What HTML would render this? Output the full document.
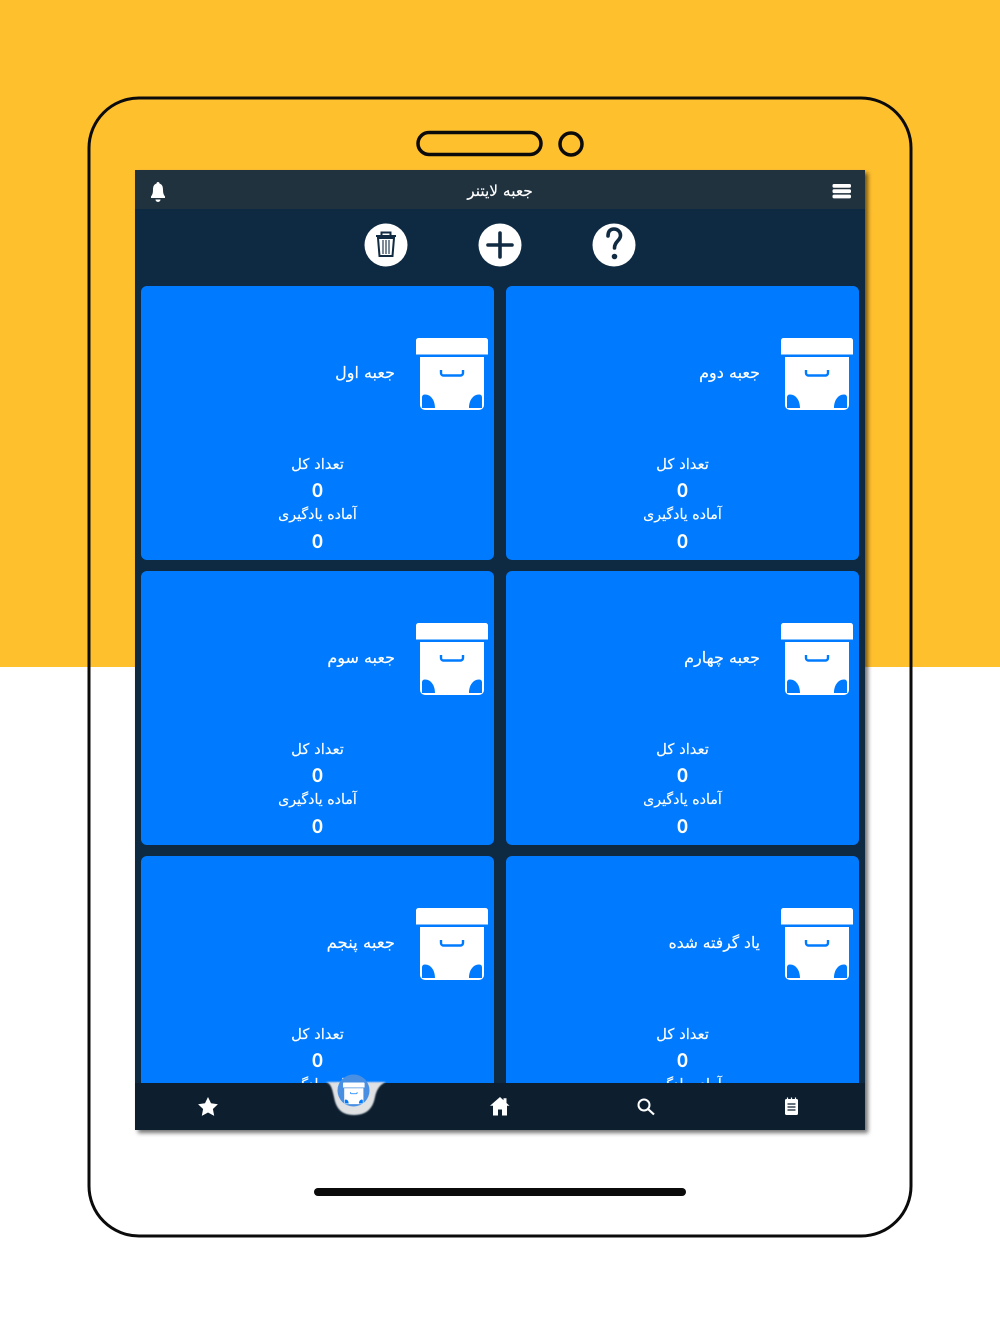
<!DOCTYPE html>
<html lang="fa"><head><meta charset="utf-8"><title>جعبه لایتنر</title>
<style>
html,body{margin:0;padding:0;background:#fff}
svg{display:block}
text{font-family:"DejaVu Sans","Liberation Sans",sans-serif;fill:#fff;text-anchor:middle;stroke:#fff;stroke-width:.15px}
text.n{stroke-width:.7px}
</style></head><body>
<svg width="1000" height="1334" viewBox="0 0 1000 1334" xmlns="http://www.w3.org/2000/svg">
<defs>
<filter id="sh" x="-5%" y="-5%" width="110%" height="110%"><feDropShadow dx="3" dy="3" stdDeviation="2" flood-color="#000" flood-opacity=".55"/></filter>
<filter id="bl" x="-10%" y="-10%" width="120%" height="120%"><feGaussianBlur stdDeviation=".7"/></filter>
<clipPath id="scr"><rect x="135" y="170" width="730" height="913"/></clipPath>
<g id="box">
<path d="M0 2.500a2.500 2.500 0 0 1 2.500-2.500h67a2.500 2.500 0 0 1 2.500 2.500v14H0z" fill="#fff"/>
<path d="M4 19h64v48a5 5 0 0 1-5 5H9a5 5 0 0 1-5-5z" fill="#fff"/>
<path d="M25 32v3a2.500 2.500 0 0 0 2.500 2.500h17a2.500 2.500 0 0 0 2.500-2.500v-3" fill="none" stroke="#007bff" stroke-width="2.400"/>
<path d="M6 70v-11a3 3 0 0 1 3-2.500c6 0 10 6 10 13.500z M66 70v-11a3 3 0 0 0-3-2.500c-6 0-10 6-10 13.500z" fill="#007bff"/>
</g>
<g id="card">
<rect x="0" y="0" width="353" height="274" rx="6" fill="#007bff"/>
<use href="#box" x="275" y="52"/>
<text x="176.500" y="183" font-size="14.800">تعداد کل</text>
<text class="n" x="176.500" y="210.500" font-size="18">0</text>
<text x="176.500" y="233" font-size="14.200">آماده یادگیری</text>
<text class="n" x="176.500" y="261.500" font-size="18">0</text>
</g>
</defs>
<rect width="1000" height="667" fill="#ffc02e"/>
<rect x="89" y="98" width="822" height="1138" rx="50" fill="none" stroke="#0b0b0b" stroke-width="3"/>
<rect x="418" y="132.500" width="123" height="22" rx="11" fill="none" stroke="#0b0b0b" stroke-width="3.500"/>
<circle cx="571" cy="144" r="11" fill="none" stroke="#0b0b0b" stroke-width="3.500"/>
<rect x="314" y="1188" width="372" height="8" rx="4" fill="#0b0b0b"/>

<rect x="135" y="170" width="730" height="960" fill="#112b43" filter="url(#sh)"/>
<rect x="135" y="170" width="730" height="39" fill="#21323f"/>
<text x="500" y="196" font-size="15.400">جعبه لایتنر</text>
<path d="M158 182c1 0 1.500.7 1.500 1.500 3 1 3.500 3.500 3.500 6.500 0 3 .7 5 2 6.500v1.500h-14v-1.500c1.300-1.500 2-3.500 2-6.500 0-3 .5-5.500 3.500-6.500 0-.8.5-1.500 1.500-1.500z M155.500 199.500h5a2.500 2.500 0 0 1-5 0z" fill="#fff"/>
<g fill="#fff"><rect x="832.500" y="184" width="18.500" height="3.800" rx="1.500"/><rect x="832.500" y="189.300" width="18.500" height="3.800" rx="1.500"/><rect x="832.500" y="194.600" width="18.500" height="3.800" rx="1.500"/></g>

<g fill="#fff"><circle cx="386" cy="245" r="21.500"/><circle cx="500" cy="245" r="21.500"/><circle cx="614" cy="245" r="21.500"/></g>
<g fill="none" stroke="#112b43">
<path d="M376 236h20M381.500 235.500v-3h9v3M378 238l1.500 18h13l1.500-18z" stroke-width="2"/>
<path d="M383 240v14M386 240v14M389 240v14" stroke-width="1.100"/>
<path d="M488 245h24M500 233v24" stroke-width="3.600" stroke-linecap="round"/>
<path d="M608 236c0-5 2.500-7 6-7s6.500 2.500 6.500 6.500c0 5-6 6-6 12.500" stroke-width="3.600" stroke-linecap="round"/>
</g>
<circle cx="614.500" cy="256.500" r="2.800" fill="#112b43"/>

<g clip-path="url(#scr)">
<use href="#card" x="141" y="286"/><use href="#card" x="506" y="286"/>
<use href="#card" x="141" y="571"/><use href="#card" x="506" y="571"/>
<use href="#card" x="141" y="856"/><use href="#card" x="506" y="856"/>
</g>
<g>
<text x="395" y="378" style="text-anchor:end" font-size="16">جعبه اول</text>
<text x="760" y="378" style="text-anchor:end" font-size="16">جعبه دوم</text>
<text x="395" y="663" style="text-anchor:end" font-size="16">جعبه سوم</text>
<text x="760" y="663" style="text-anchor:end" font-size="16">جعبه چهارم</text>
<text x="395" y="948" style="text-anchor:end" font-size="16.500">جعبه پنجم</text>
<text x="760" y="948" style="text-anchor:end" font-size="15.500">یاد گرفته شده</text>
</g>

<path d="M135 1083H328c4 0 5 5 6 14 2 11 7 18 20 18s18-7 20-18c2-9 4-14 8-14H865v47H135z" fill="#0d1f2f"/>
<path d="M326 1082h60c-5 2-9 6-11 15-2 11-8 18-21 18s-18-7-20-18c-2-9-3-13-8-15z" fill="#dfe1e3" filter="url(#bl)"/>
<circle cx="353.500" cy="1090.500" r="16" fill="#4a90e2"/>
<g transform="translate(343 1082.500) scale(.3)"><use href="#box"/></g>

<path d="M208 1097l3 6.300 6.900.9-5 4.800 1.300 6.900-6.200-3.400-6.200 3.400 1.300-6.900-5-4.800 6.900-.9z" fill="#fff"/>
<path d="M500 1097l3.500 3.200v-2h3v4.800l3 2.800h-2.500v9.700h-5v-6h-4v6h-5v-9.700H490z" fill="#fff"/>
<circle cx="644" cy="1105" r="5.500" fill="none" stroke="#fff" stroke-width="2"/>
<path d="M648 1109l6 5.500" stroke="#fff" stroke-width="2.200"/>
<rect x="785" y="1099" width="13" height="16" rx="1.500" fill="#fff"/>
<path d="M787.500 1097.500v3M791.500 1097.500v3M795.500 1097.500v3" stroke="#fff" stroke-width="1.200"/>
<path d="M787.500 1104h8M787.500 1107h8M787.500 1110h8" stroke="#0d1f2f" stroke-width="1.300"/>
</svg>
</body></html>
